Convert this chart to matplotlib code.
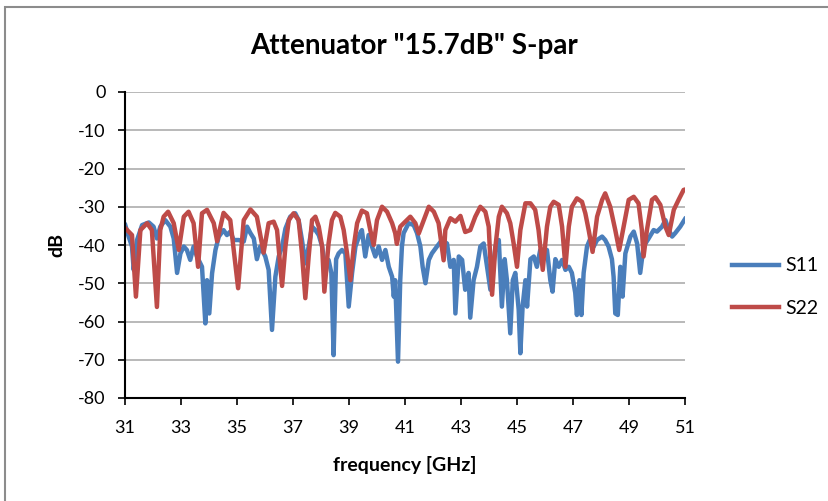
import numpy as np
import matplotlib
matplotlib.use('Agg')
import matplotlib.pyplot as plt
from matplotlib.patches import Rectangle

plt.rcParams['font.family'] = ['Lato', 'DejaVu Sans']
plt.rcParams['axes.unicode_minus'] = False

# S22 (red)
freq_s22 = [31.01, 31.25, 31.39, 31.55, 31.79, 31.96, 32.14, 32.26, 32.38, 32.54,
            32.74, 32.92, 33.10, 33.27, 33.45, 33.61, 33.75, 33.93, 34.17, 34.29,
            34.52, 34.76, 35.04, 35.24, 35.48, 35.71, 35.95, 36.13, 36.31, 36.43,
            36.61, 36.73, 36.85, 37.02, 37.20, 37.32, 37.44, 37.56, 37.68, 37.80,
            37.92, 38.04, 38.12, 38.27, 38.39, 38.51, 38.69, 38.81, 38.93, 39.05,
            39.17, 39.29, 39.46, 39.64, 39.76, 39.88, 40.00, 40.18, 40.36, 40.54,
            40.65, 40.71, 40.83, 41.01, 41.19, 41.37, 41.49, 41.67, 41.85, 42.03,
            42.20, 42.38, 42.44, 42.62, 42.80, 42.98, 43.15, 43.33, 43.51, 43.69,
            43.87, 43.99, 44.11, 44.23, 44.35, 44.46, 44.64, 44.76, 44.88, 45.00,
            45.12, 45.30, 45.48, 45.65, 45.77, 45.92, 46.07, 46.19, 46.31, 46.49,
            46.61, 46.73, 46.85, 46.96, 47.14, 47.32, 47.44, 47.56, 47.70, 47.86,
            48.04, 48.15, 48.33, 48.51, 48.65, 48.81, 48.99, 49.17, 49.34, 49.46,
            49.52, 49.64, 49.82, 49.94, 50.12, 50.30, 50.42, 50.60, 50.77, 50.95,
            51.00]
s22 = [-35.6, -37.4, -53.5, -36.1, -34.3, -36.1, -56.2, -36.1, -32.6, -31.3,
       -34.3, -41.3, -32.6, -31.3, -34.3, -45.7, -31.7, -30.8, -34.3, -39.0,
       -31.6, -33.5, -51.3, -33.5, -30.7, -32.6, -42.0, -34.3, -33.9, -36.1,
       -50.7, -40.4, -33.5, -31.7, -33.5, -42.2, -53.9, -43.0, -33.5, -32.6,
       -35.2, -40.4, -52.2, -39.6, -33.5, -31.6, -32.6, -36.1, -42.2, -49.2,
       -40.4, -34.3, -31.0, -31.7, -36.1, -40.0, -33.5, -30.0, -31.3, -34.3,
       -36.9, -39.7, -35.2, -33.9, -32.6, -34.3, -37.0, -33.5, -30.0, -31.3,
       -34.3, -44.0, -36.1, -33.0, -33.9, -32.4, -36.6, -36.1, -32.6, -30.0,
       -31.3, -35.2, -53.0, -40.4, -32.6, -30.0, -31.7, -34.3, -39.6, -45.7,
       -36.1, -29.1, -29.1, -30.8, -36.1, -46.5, -35.2, -30.0, -28.7, -29.5,
       -35.2, -45.7, -35.2, -30.0, -27.8, -28.7, -31.7, -36.1, -41.8, -32.6,
       -28.2, -26.5, -30.0, -36.1, -41.3, -35.2, -28.2, -27.4, -29.1, -36.1,
       -43.0, -36.1, -28.2, -27.5, -29.5, -35.2, -37.4, -30.8, -28.2, -25.6,
       -25.5]

# S11 (blue)
freq_s11 = [31.01, 31.13, 31.25, 31.31, 31.43, 31.61, 31.85, 32.02, 32.14, 32.26,
            32.44, 32.62, 32.74, 32.86, 32.98, 33.10, 33.21, 33.33, 33.45, 33.57,
            33.75, 33.87, 33.93, 34.01, 34.11, 34.23, 34.35, 34.52, 34.64, 34.76,
            34.88, 35.06, 35.24, 35.36, 35.48, 35.60, 35.71, 35.83, 36.01, 36.13,
            36.25, 36.37, 36.49, 36.61, 36.73, 36.90, 37.08, 37.20, 37.32, 37.44,
            37.56, 37.68, 37.80, 37.92, 38.04, 38.15, 38.27, 38.37, 38.45, 38.54,
            38.63, 38.75, 38.87, 38.99, 39.11, 39.23, 39.40, 39.46, 39.58, 39.70,
            39.82, 39.94, 40.06, 40.18, 40.30, 40.42, 40.54, 40.60, 40.65, 40.75,
            40.83, 40.89, 40.95, 41.13, 41.31, 41.43, 41.55, 41.63, 41.73, 41.85,
            41.96, 42.14, 42.32, 42.50, 42.62, 42.74, 42.80, 42.92, 43.04, 43.15,
            43.27, 43.33, 43.45, 43.57, 43.69, 43.81, 43.93, 44.05, 44.23, 44.35,
            44.46, 44.56, 44.64, 44.76, 44.85, 44.94, 45.06, 45.12, 45.20, 45.30,
            45.36, 45.48, 45.60, 45.71, 45.83, 45.95, 46.07, 46.19, 46.27, 46.37,
            46.49, 46.61, 46.73, 46.85, 46.96, 47.08, 47.14, 47.23, 47.30, 47.38,
            47.50, 47.62, 47.74, 47.86, 48.04, 48.15, 48.27, 48.39, 48.45, 48.51,
            48.60, 48.69, 48.77, 48.87, 49.05, 49.17, 49.29, 49.40, 49.52, 49.70,
            49.88, 50.00, 50.18, 50.30, 50.42, 50.54, 50.65, 50.83, 51.00]
s11 = [-34.8, -37.8, -40.4, -46.5, -38.7, -34.8, -34.1, -35.2, -38.3, -35.2,
       -33.5, -35.2, -38.3, -47.3, -42.2, -40.4, -41.3, -43.9, -40.4, -43.0,
       -45.7, -60.5, -49.2, -57.9, -47.4, -41.3, -37.8, -36.1, -37.4, -36.5,
       -38.7, -38.7, -39.1, -35.2, -36.9, -38.3, -43.7, -40.4, -43.0, -46.5,
       -62.2, -48.3, -43.0, -40.4, -35.7, -32.6, -31.7, -33.5, -38.7, -44.8,
       -40.4, -35.2, -36.1, -37.4, -40.4, -45.7, -43.9, -47.3, -68.8, -43.7,
       -42.2, -41.3, -42.2, -56.1, -47.3, -40.4, -36.9, -36.1, -43.0, -37.4,
       -40.4, -43.0, -40.4, -43.9, -41.3, -45.7, -48.3, -53.5, -49.2, -70.5,
       -49.2, -40.4, -36.9, -34.3, -34.8, -36.9, -40.4, -45.7, -50.0, -43.9,
       -42.2, -40.4, -38.7, -39.6, -45.7, -43.9, -57.9, -43.0, -43.9, -51.7,
       -47.3, -59.0, -49.2, -45.7, -40.4, -39.6, -45.7, -51.7, -40.4, -38.7,
       -56.1, -43.7, -49.2, -63.1, -49.2, -47.3, -56.9, -68.3, -56.1, -49.2,
       -56.1, -43.7, -43.0, -45.7, -41.3, -43.7, -41.3, -49.2, -52.2, -43.7,
       -45.7, -43.9, -46.5, -45.7, -47.3, -52.5, -58.3, -49.2, -58.3, -47.3,
       -40.4, -38.3, -40.4, -38.7, -37.8, -38.7, -40.4, -43.7, -48.3, -57.9,
       -58.3, -45.7, -53.5, -42.2, -37.8, -36.5, -39.6, -47.3, -40.4, -38.3,
       -36.1, -36.5, -35.2, -33.5, -36.1, -37.8, -36.9, -35.2, -33.2]

x_ticks = list(range(31, 52, 2))
y_ticks = list(range(-80, 1, 10))

fig = plt.figure(figsize=(8.29, 5.01), dpi=100)
fig.patches.append(Rectangle((0.006, -0.05), 1.2, 0.986 + 0.05, transform=fig.transFigure,
                             fill=False, edgecolor='#8c8c8c', linewidth=1.5))

ax = fig.add_axes([125 / 829, 1 - 398 / 501, 560 / 829, 306 / 501])
ax.plot(freq_s11, s11, color='#4a7ebb', linewidth=3.2, label='S11', solid_joinstyle='round')
ax.plot(freq_s22, s22, color='#be4b48', linewidth=3.2, label='S22', solid_joinstyle='round')

ax.set_xlim(31, 51)
ax.set_ylim(-80, 0)
ax.set_xticks(x_ticks)
ax.set_yticks(y_ticks)
ax.tick_params(labelsize=13, length=5, width=1.2, direction='out', colors='black')
ax.tick_params(axis='x', pad=11)
ax.tick_params(axis='y', pad=9)
ax.grid(axis='y', color='#a6a6a6', linewidth=1.1)
ax.set_axisbelow(True)
for side in ['top', 'right']:
    ax.spines[side].set_visible(False)
for side in ['left', 'bottom']:
    ax.spines[side].set_linewidth(1.5)
    ax.spines[side].set_color('black')

fig.text(414 / 829, 1 - 46 / 501, 'Attenuator "15.7dB" S-par', ha='center', va='center',
         fontsize=20, fontweight='bold')
fig.text(405 / 829, 1 - 465 / 501, 'frequency [GHz]', ha='center', va='center',
         fontsize=14, fontweight='bold')
fig.text(57 / 829, 1 - 245 / 501, 'dB', ha='center', va='center', rotation=90,
         fontsize=14, fontweight='bold')

ax.legend(loc='center left', bbox_to_anchor=(715 / 829, 1 - 287 / 501),
          bbox_transform=fig.transFigure, frameon=False, fontsize=14,
          handlelength=2.4, handletextpad=0.3, labelspacing=1.3)

fig.savefig('out.png', dpi=100)
